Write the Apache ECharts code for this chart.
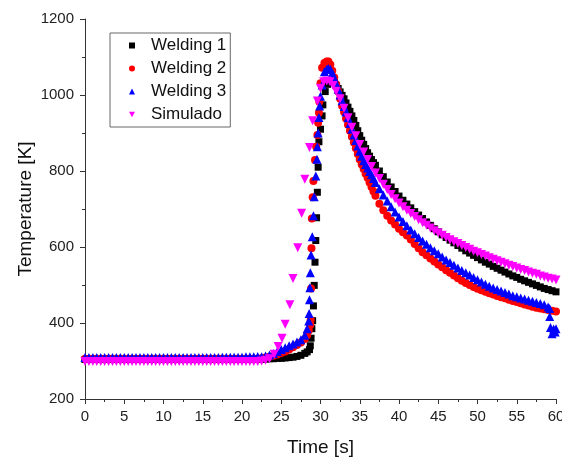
<!DOCTYPE html>
<html>
<head>
<meta charset="utf-8">
<script src="https://cdn.jsdelivr.net/npm/echarts@6/dist/echarts.min.js"></script>
<style>html,body{margin:0;padding:0;background:#fff}#c{width:562px;height:460px}</style>
</head>
<body>
<div id="c"></div>
<script>
// ---- data ----
const seriesNames = ['Welding 1', 'Welding 2', 'Welding 3', 'Simulado'];
const xTicks = [0, 5, 10, 15, 20, 25, 30, 35, 40, 45, 50, 55, 60];
const yTicks = [200, 400, 600, 800, 1000, 1200];

// shared time grids (s)
const tBase = [0,0.5,1,1.5,2,2.5,3,3.5,4,4.5,5,5.5,6,6.5,7,7.5,8,8.5,9,9.5,10,10.5,11,11.5,12,12.5,13,13.5,14,14.5,15,15.5,16,16.5,17,17.5,18,18.5,19,19.5,20,20.5,21,21.5,22];
const tTail = [37.5,38,38.5,39,39.5,40,40.5,41,41.5,42,42.5,43,43.5,44,44.5,45,45.5,46,46.5,47,47.5,48,48.5,49,49.5,50,50.5,51,51.5,52,52.5,53,53.5,54,54.5,55,55.5,56,56.5,57,57.5,58,58.5,59,59.5,60];

// Welding 1
const w1Base = [304,304,304,304,304,304,304,304,304,304,304,304,304,304,304,304,304,304,304,304,304,304,304,304,304,304,304,304,304,304,304,304,304,304,304,304,304,304,304,305,305,305,305,305,305];
const w1Mid = [[22.5,305],[23,305],[23.5,306],[24,306],[24.5,307],[25,307],[25.5,308],[26,309],[26.5,310],[27,312],[27.5,315],[28,320],[28.3,324],[28.6,330],[28.7,340],[28.8,360],[28.9,385],[29.0,406],[29.1,445],[29.2,499],[29.3,560],[29.4,617],[29.5,677],[29.6,744],[29.7,810],[29.8,877],[30.0,910],[30.2,945],[30.3,974],[30.6,1009],[30.9,1028],[31.2,1036],[31.5,1038],[31.75,1035],[32,1025],[32.25,1017],[32.5,1008],[32.75,999],[33,990],[33.25,979],[33.5,968],[33.75,957],[34,945],[34.25,933],[34.5,920],[34.75,906],[35,893],[35.25,881],[35.5,870],[35.75,859],[36,848],[36.25,839],[36.5,830],[36.75,822],[37,815]];
const w1Tail = [800,785,771,758,746,734,723,713,703,693,684,675,666,657,648,640,632,625,618,611,604,597,590,584,578,572,566,560,555,549,544,539,534,529,524,520,515,511,507,503,499,495,491,488,485,482];

// Welding 2
const w2Base = [306,306,306,306,306,306,306,306,306,306,306,306,306,306,306,306,306,306,306,306,306,306,306,306,306,306,306,306,306,306,306,306,306,306,306,306,306,306,306,306,306,306,306,306,306];
const w2Mid = [[22.5,307],[23,309],[23.5,311],[24,314],[24.5,317],[25,321],[25.5,325],[26,330],[26.5,336],[27,342],[27.5,349],[28,358],[28.3,368],[28.5,380],[28.7,395],[28.75,408],[28.8,491],[28.85,597],[28.9,675],[29.0,731],[29.1,774],[29.3,829],[29.45,864],[29.6,895],[29.7,927],[29.8,953],[29.85,982],[30.0,1031],[30.2,1072],[30.5,1084],[30.8,1088],[31.0,1088],[31.25,1080],[31.5,1064],[31.75,1046],[32,1028],[32.25,1009],[32.5,990],[32.75,972],[33,955],[33.25,938],[33.5,922],[33.75,906],[34,890],[34.25,875],[34.5,860],[34.75,845],[35,830],[35.25,817],[35.5,805],[35.75,793],[36,782],[36.25,770],[36.5,758],[36.75,746],[37,735]];
const w2Tail = [714,697,682,670,659,648,639,630,620,608,597,586,578,570,562,554,547,539,532,525,518,511,505,500,495,490,486,482,478,475,471,468,465,461,458,455,452,449,446,443,440,438,436,434,432,430];

// Welding 3
const w3Base = [309,309,309,309,309,309,309,309,309,309,309,309,309,309,309,309,309,309,309,309,309,309,309,309,309,309,309,309,309,309,309,309,309,309,309,310,310,310,310,310,310,311,311,311,312];
const w3Mid = [[22.5,311],[23,313],[23.5,316],[24,320],[24.5,325],[25,330],[25.5,335],[26,340],[26.5,345],[27,350],[27.5,356],[28,368],[28.3,385],[28.5,405],[28.55,425],[28.6,461],[28.65,493],[28.7,532],[28.8,579],[28.95,627],[29.1,682],[29.2,732],[29.4,787],[29.55,831],[29.6,864],[29.7,900],[29.8,941],[29.9,971],[30.0,997],[30.2,1026],[30.5,1061],[30.8,1068],[31.0,1070],[31.25,1068],[31.5,1058],[31.75,1045],[32,1030],[32.25,1015],[32.5,1000],[32.75,985],[33,970],[33.25,955],[33.5,940],[33.75,925],[34,910],[34.25,895],[34.5,880],[34.75,866],[35,852],[35.25,839],[35.5,827],[35.75,817],[36,808],[36.25,799],[36.5,790],[36.75,780],[37,770]];
const w3Tail = [753,737,721,706,692,679,667,656,645,635,625,616,607,598,590,582,574,566,559,552,545,538,532,526,520,514,508,502,497,492,488,484,480,476,472,469,466,463,460,457,454,451,448];
const w3End = [[59.0,442],[59.2,438],[59.2,417],[59.3,388],[59.5,372],[59.7,384],[59.9,376],[60.0,385]];

// Simulado
const simBase = [299,299,299,299,299,299,299,299,299,299,299,299,299,299,299,299,299,299,299,299,299,299,299,299,299,299,299,299,299,299,299,299,299,299,299,299,299,299,299,299,299,299,299,299,299];
const simMid = [[22.5,300],[23,302],[23.5,306],[24.1,318],[24.6,338],[25.1,360],[25.5,397],[26.1,448],[26.5,517],[27.1,598],[27.6,689],[28.0,778],[28.6,862],[29.0,932],[29.6,984],[30.0,1018],[30.4,1035],[30.8,1037],[31.2,1035],[31.6,1025],[32.0,1010],[32.5,990],[33.0,965],[33.5,940],[34.0,915],[34.5,893],[35.0,870],[35.5,850],[36.0,830],[36.5,812],[37.0,795]];
const simTail = [780,765,751,738,727,716,706,697,688,680,672,664,657,650,643,637,631,625,619,614,609,604,599,594,589,585,580,576,572,568,564,560,556,552,549,545,541,538,534,531,528,524,521,518,516,513];

function build(base, mid, tail, end) {
  const d = [];
  base.forEach((v, i) => d.push([tBase[i], v]));
  mid.forEach(p => d.push(p));
  tail.forEach((v, i) => d.push([tTail[i], v]));
  (end || []).forEach(p => d.push(p));
  return d;
}

const FONT = '"Liberation Sans", Arial, sans-serif';
const chart = echarts.init(document.getElementById('c'), null, {renderer: 'canvas'});
const axisCommon = {
  axisLine: {show: true, onZero: false, lineStyle: {color: '#333', width: 1}},
  axisTick: {show: true, inside: false, length: 5, lineStyle: {color: '#333'}},
  minorTick: {show: true, splitNumber: 2, length: 3, lineStyle: {color: '#333'}},
  splitLine: {show: false},
  minorSplitLine: {show: false},
  nameLocation: 'middle',
  nameMoveOverlap: false,
  nameTextStyle: {fontSize: 19, color: '#111', fontFamily: FONT}
};
const invTri = 'path://M0,0 L10,0 L5,9 Z';
chart.setOption({
  animation: false,
  backgroundColor: '#fff',
  grid: {left: 85, right: 6, top: 19, bottom: 61, containLabel: false, outerBoundsMode: 'none'},
  legend: {
    orient: 'vertical', left: 110, top: 33,
    itemWidth: 6, itemHeight: 6, itemGap: 6,
    padding: [4, 4, 4, 19],
    borderColor: '#666', borderWidth: 1,
    textStyle: {fontSize: 17, color: '#111', fontFamily: FONT, padding: [0, 0, 0, 11]},
    data: [
      {name: seriesNames[0], icon: 'rect'},
      {name: seriesNames[1], icon: 'circle'},
      {name: seriesNames[2], icon: 'triangle'},
      {name: seriesNames[3], icon: invTri}
    ]
  },
  xAxis: Object.assign({}, axisCommon, {
    type: 'value', min: xTicks[0], max: xTicks[xTicks.length - 1], interval: 5,
    name: 'Time [s]', nameGap: 39,
    axisLabel: {fontSize: 15, color: '#222', margin: 10, fontFamily: FONT, showMaxLabel: true, formatter: v => String(v)}
  }),
  yAxis: Object.assign({}, axisCommon, {
    type: 'value', min: yTicks[0], max: yTicks[yTicks.length - 1], interval: 200,
    name: 'Temperature [K]', nameGap: 50,
    axisLabel: {fontSize: 15, color: '#222', margin: 11, fontFamily: FONT, formatter: v => String(v)}
  }),
  series: [
    {name: seriesNames[0], type: 'scatter', symbol: 'rect', symbolSize: 7, itemStyle: {color: '#000', opacity: 1}, data: build(w1Base, w1Mid, w1Tail)},
    {name: seriesNames[1], type: 'scatter', symbol: 'circle', symbolSize: 8, itemStyle: {color: '#ff0000', opacity: 1}, data: build(w2Base, w2Mid, w2Tail)},
    {name: seriesNames[2], type: 'scatter', symbol: 'triangle', symbolSize: 9, itemStyle: {color: '#0000ff', opacity: 1}, data: build(w3Base, w3Mid, w3Tail, w3End)},
    {name: seriesNames[3], type: 'scatter', symbol: 'triangle', symbolRotate: 180, symbolSize: 9, itemStyle: {color: '#ff00ff', opacity: 1}, data: build(simBase, simMid, simTail)}
  ]
});
</script>
</body>
</html>
